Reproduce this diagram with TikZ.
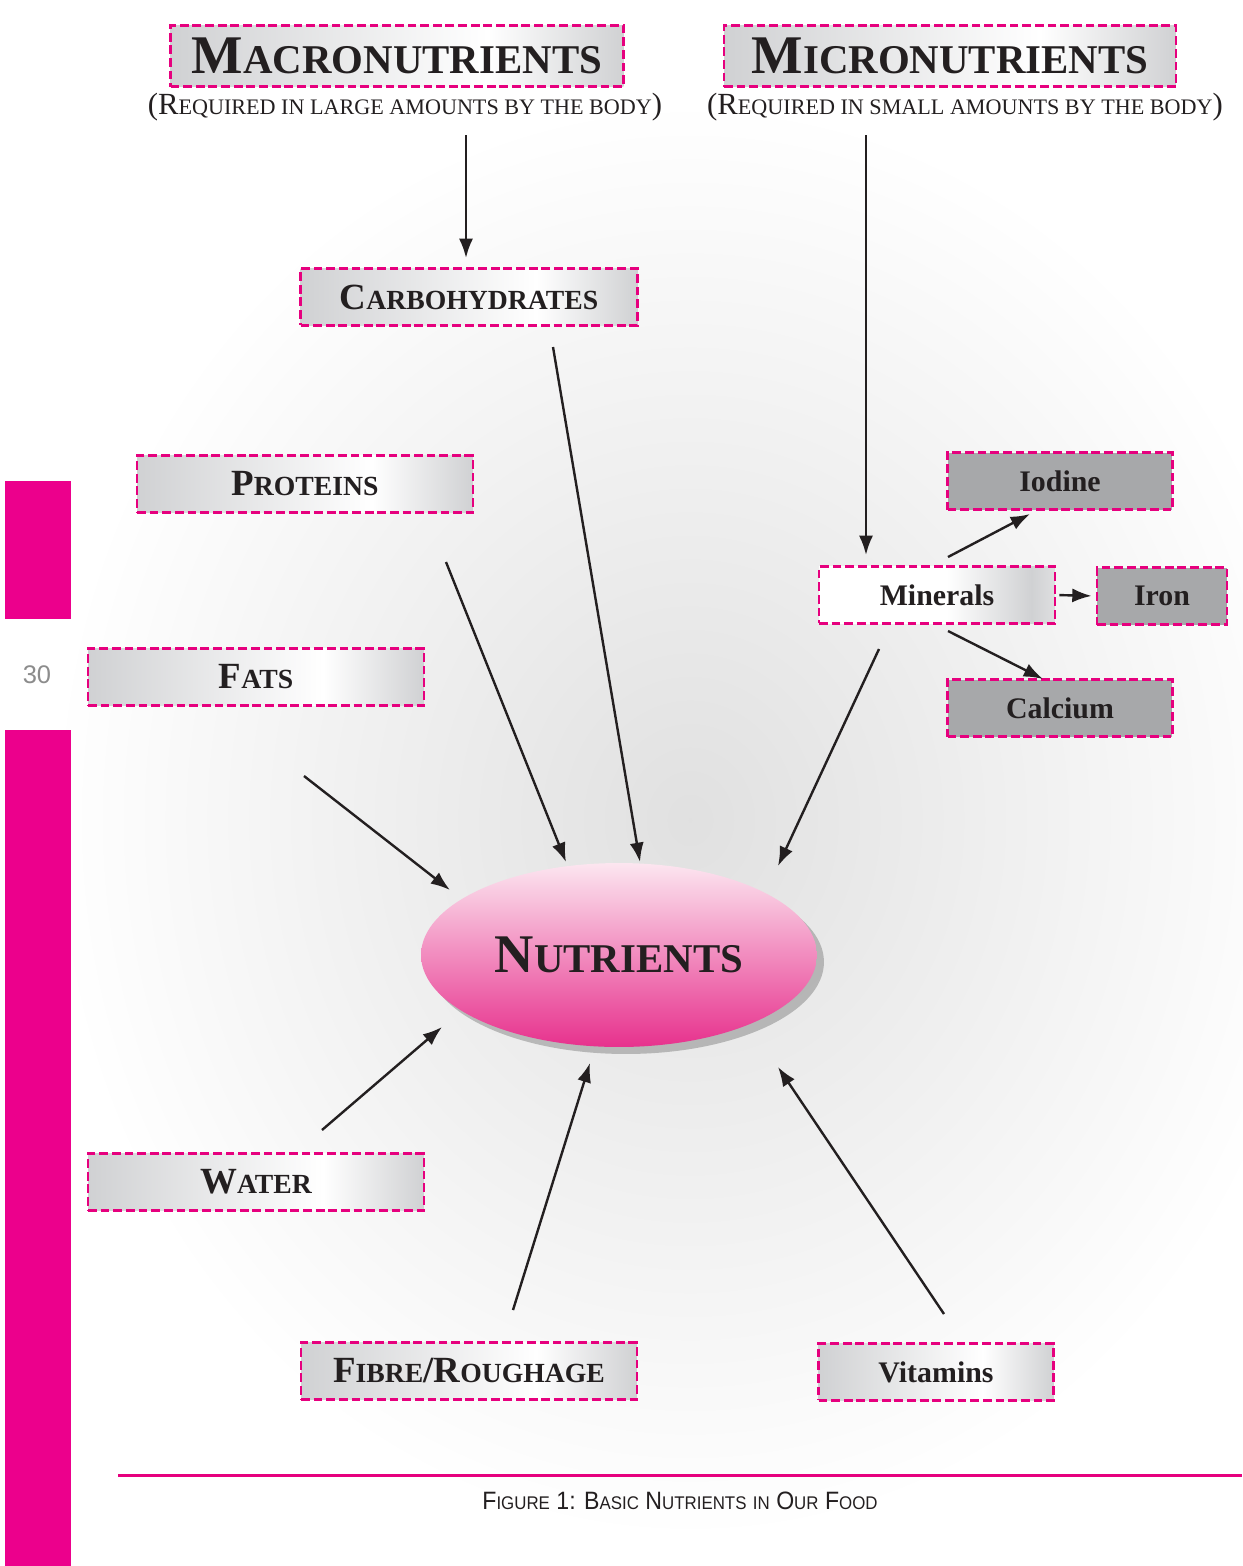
\documentclass[tikz,border=0pt]{standalone}
\usepackage{fontspec}
\setmainfont{Liberation Serif}
\newfontfamily\capfont{Liberation Sans}
\usetikzlibrary{arrows.meta,shapes.geometric,shadows}
\definecolor{ncpink}{HTML}{E6007E}
\definecolor{barpink}{HTML}{EC008C}
\definecolor{boxgray}{HTML}{D0D1D3}
\definecolor{boxdark}{HTML}{A7A8AA}
\definecolor{ink}{HTML}{231F20}
\definecolor{nutrtop}{HTML}{FCE6F0}
\definecolor{nutrbot}{HTML}{E7318D}
\pgfdeclarehorizontalshading{boxshade}{100bp}{color(0bp)=(boxgray); color(25bp)=(boxgray); color(60bp)=(white); color(75bp)=(boxgray); color(100bp)=(boxgray)}
\pgfdeclarehorizontalshading{minshade}{100bp}{color(0bp)=(white); color(25bp)=(white); color(52bp)=(white); color(70bp)=(boxgray); color(75bp)=(boxgray!70); color(100bp)=(boxgray!70)}
% fake small caps: first letter full size, rest scaled
\newcommand\fsc[3][0.75]{#2\scalebox{#1}{#3}}
\tikzset{
  pinkline/.style={draw=ncpink, line width=0.055cm, dash pattern=on 5pt off 2.2pt},
  catbox/.style={pinkline, shade, shading=boxshade, minimum height=1.13cm, text=ink,
    font=\fontsize{21}{24}\selectfont\bfseries},
  headbox/.style={catbox, minimum height=1.22cm, font=\fontsize{31}{34}\selectfont\bfseries},
  subline/.style={text=ink, font=\fontsize{17.5}{20}\selectfont},
  darkbox/.style={pinkline, fill=boxdark, minimum height=1.14cm, text=ink,
    font=\fontsize{17}{20}\selectfont\bfseries},
  feed/.style={-{Latex[length=11pt,width=8pt]}, line width=0.048cm, draw=ink},
}
\begin{document}
\begin{tikzpicture}[x=0.02cm, y=-0.02cm]
\useasboundingbox (0,0) rectangle (1242,1566);
% background haze
\fill[white] (0,0) rectangle (1242,1566);
\shade[inner color=gray!24, outer color=white] (690,820) ellipse (640 and 720);
% side bars and page number
\fill[barpink] (5,481) rectangle (71,619);
\fill[barpink] (5,730) rectangle (71,1566);
\node[text=gray!90, font=\capfont\fontsize{14.5}{16}\selectfont] (page) at (37,675) {30};
% heads
\node[headbox, minimum width=9.06cm] (macro) at (397,56) {\fsc{M}{ACRONUTRIENTS}};
\node[subline] (macrosub) at (405,107) {(\fsc[0.72]{R}{EQUIRED IN LARGE AMOUNTS BY THE BODY})};
\node[headbox, minimum width=9.04cm] (micro) at (950,56) {\fsc{M}{ICRONUTRIENTS}};
\node[subline] (microsub) at (965,107) {(\fsc[0.72]{R}{EQUIRED IN SMALL AMOUNTS BY THE BODY})};
% nutrient groups
\node[catbox, minimum width=6.74cm] (carb) at (469,297) {\fsc{C}{ARBOHYDRATES}};
\node[catbox, minimum width=6.72cm] (prot) at (305,484) {\fsc{P}{ROTEINS}};
\node[catbox, minimum width=6.72cm] (fats) at (256,677) {\fsc{F}{ATS}};
\node[catbox, minimum width=6.72cm] (water) at (256,1182) {\fsc{W}{ATER}};
\node[catbox, minimum width=6.72cm] (fibre) at (469,1371) {\fsc{F}{IBRE}/\fsc{R}{OUGHAGE}};
\node[catbox, minimum width=4.70cm, font=\fontsize{17}{20}\selectfont\bfseries] (vita) at (936,1372) {Vitamins};
\node[catbox, shading=minshade, minimum width=4.72cm, font=\fontsize{17}{20}\selectfont\bfseries] (mine) at (937,595) {Minerals};
% minerals
\node[darkbox, minimum width=4.5cm] (iodine) at (1060,481) {Iodine};
\node[darkbox, minimum width=2.6cm] (iron) at (1162,596) {Iron};
\node[darkbox, minimum width=4.5cm] (calc) at (1060,708) {Calcium};
% centre
\node[ellipse, minimum width=7.92cm, minimum height=3.68cm, top color=nutrtop, bottom color=nutrbot,
  drop shadow={shadow xshift=0.14cm, shadow yshift=-0.14cm, fill=black, opacity=0.22},
  text=ink, font=\fontsize{31}{34}\selectfont\bfseries] (nutr) at (619,955) {\fsc{N}{UTRIENTS}};
% arrow ends
\coordinate (macroS) at (466,135);  \coordinate (macroE) at (466,258);
\coordinate (microS) at (866,135);  \coordinate (microE) at (866,555);
\coordinate (carbS) at (553,347);   \coordinate (carbE) at (640,862);
\coordinate (protS) at (446,562);   \coordinate (protE) at (566,862);
\coordinate (fatsS) at (304,776);   \coordinate (fatsE) at (450,890);
\coordinate (mineS) at (879,649);   \coordinate (mineE) at (778,866);
\coordinate (iodS) at (948,557);    \coordinate (iodE) at (1030,514);
\coordinate (calcS) at (948,631);   \coordinate (calcE) at (1043,679);
\coordinate (waterS) at (322,1130); \coordinate (waterE) at (442,1027);
\coordinate (fibreS) at (513,1310); \coordinate (fibreE) at (590,1063);
\coordinate (vitaS) at (944,1314);  \coordinate (vitaE) at (778,1067);
% arrows
\draw[feed] (macroS) -- (macroE);
\draw[feed] (microS) -- (microE);
\draw[feed] (carbS) -- (carbE);
\draw[feed] (protS) -- (protE);
\draw[feed] (fatsS) -- (fatsE);
\draw[feed] (mineS) -- (mineE);
\draw[feed] (iodS) -- (iodE);
\draw[feed, shorten <=0.06cm, shorten >=0.08cm] (mine.east) -- (iron.west);
\draw[feed] (calcS) -- (calcE);
\draw[feed] (waterS) -- (waterE);
\draw[feed] (fibreS) -- (fibreE);
\draw[feed] (vitaS) -- (vitaE);
% caption
\draw[ncpink, line width=0.06cm] (118,1475) -- (1242,1475);
\node[text=ink, font=\capfont\fontsize{14.3}{16}\selectfont] (capt) at (680,1501)
  {\scalebox{0.92}[1]{\fsc[0.73]{F}{IGURE} 1: \fsc[0.73]{B}{ASIC} \fsc[0.73]{N}{UTRIENTS} \scalebox{0.73}{IN} \fsc[0.73]{O}{UR} \fsc[0.73]{F}{OOD}}};
\end{tikzpicture}
\end{document}
